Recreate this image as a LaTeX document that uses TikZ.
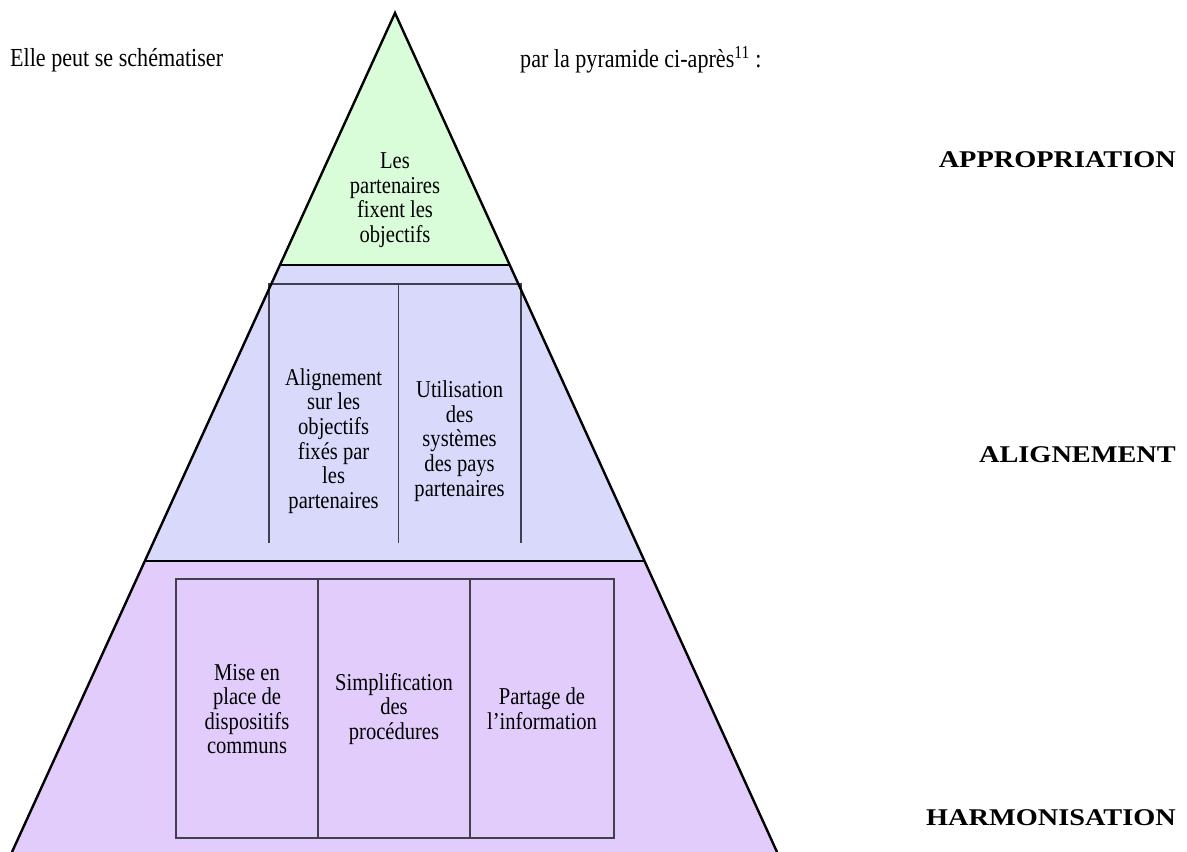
\documentclass[tikz,border=0pt]{standalone}
\usepackage{fontspec}
\setmainfont{Liberation Serif}[FakeStretch=0.85]
\newfontfamily\levelfont{Liberation Serif}[FakeStretch=1.18]
\usetikzlibrary{calc,positioning}

\definecolor{topgreen}{RGB}{217,252,217}
\definecolor{midblue}{RGB}{217,217,252}
\definecolor{lowpurple}{RGB}{226,204,252}
\definecolor{cellline}{RGB}{64,64,74}

\tikzstyle{bodytext} = [font=\fontsize{26}{30}\selectfont, inner sep=0pt, anchor=west]
\tikzstyle{celltext} = [font=\fontsize{24.2}{24.6}\selectfont, align=center, inner sep=0pt]
\tikzstyle{levellabel} = [font=\levelfont\bfseries\fontsize{24}{28}\selectfont, anchor=east, inner sep=0pt]
\tikzstyle{pyredge} = [line width=2.4pt, line join=miter]
\tikzstyle{cell} = [draw=cellline, line width=1.8pt]

\begin{document}
\begin{tikzpicture}[x=1pt, y=-1pt]
            \useasboundingbox (0,0) rectangle (1187,852);

            \coordinate (apex) at (395,13);
            \coordinate (baseL) at (12,852);
            \coordinate (baseR) at (777,852);
            \coordinate (b1L) at ($(apex)!0.3004!(baseL)$);
            \coordinate (b1R) at ($(apex)!0.3004!(baseR)$);
            \coordinate (b2L) at ($(apex)!0.6532!(baseL)$);
            \coordinate (b2R) at ($(apex)!0.6532!(baseR)$);

            \fill[topgreen] (apex) -- (b1L) -- (b1R) -- cycle;
            \fill[midblue] (b1L) -- (b2L) -- (b2R) -- (b1R) -- cycle;
            \fill[lowpurple] (b2L) -- (baseL) -- (baseR) -- (b2R) -- cycle;

            \draw[cell] (268.7,543) -- (268.7,284) -- (520.7,284) -- (520.7,543);
            \draw[cell] (398.5,284) -- (398.5,543);

            \draw[cell] (176,579) rectangle (614,838);
            \draw[cell] (318,579) -- (318,838);
            \draw[cell] (470,579) -- (470,838);

            \draw[pyredge] (b1L) -- (b1R);
            \draw[pyredge] (b2L) -- (b2R);
            \draw[pyredge] (baseL) -- (apex) -- (baseR);

            \node[celltext] (own) at (395,200) {Les\\partenaires\\fixent les\\objectifs};
            \node[celltext] (alignobj) at (333.6,441) {Alignement\\sur les\\objectifs\\fixés par\\les\\partenaires};
            \node[celltext] (usesys) at (459.6,441) {Utilisation\\des\\systèmes\\des pays\\partenaires};
            \node[celltext] (common) at (247,709) {Mise en\\place de\\dispositifs\\communs};
            \node[celltext] (simplif) at (394,709) {Simplification\\des\\procédures};
            \node[celltext] (share) at (542,709) {Partage de\\l’information};

            \node[bodytext] (intro) at (10,60) {Elle peut se schématiser};
            \node[bodytext] (introend) at (520,60) {par la pyramide ci-après\textsuperscript{11} :};

            \node[levellabel] (lvlown) at (1176,160) {APPROPRIATION};
            \node[levellabel] (lvlalign) at (1176,455) {ALIGNEMENT};
            \node[levellabel] (lvlharm) at (1176,818) {HARMONISATION};
\end{tikzpicture}
\end{document}
